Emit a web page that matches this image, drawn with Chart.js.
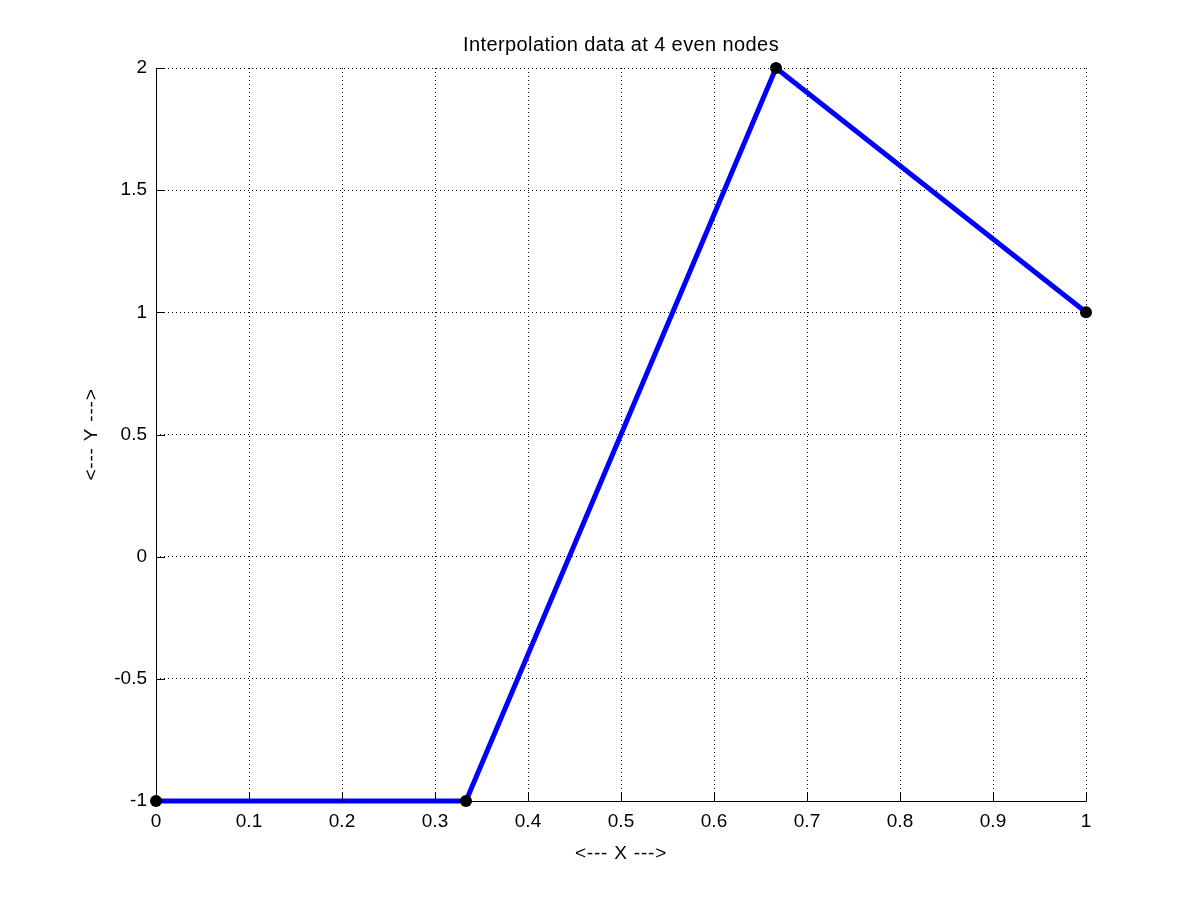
<!DOCTYPE html>
<html>
<head>
<meta charset="utf-8">
<script src="https://cdn.jsdelivr.net/npm/chart.js@4/dist/chart.umd.min.js"></script>
<style>
html,body{margin:0;padding:0;background:#fff;}
#wrap{width:1200px;height:901px;}
</style>
</head>
<body>
<div id="wrap"><canvas id="c" width="1200" height="901"></canvas></div>
<script>
const nodesX = [0, 1/3, 2/3, 1];
const nodesY = [-1, -1, 2, 1];
const titleText = 'Interpolation data at 4 even nodes';
const xLabel = '<--- X --->';
const yLabel = '<--- Y --->';

const FONT = '"Liberation Sans", Arial, Helvetica, sans-serif';
const FS = 19;

const innerTicks = {
  id: 'innerTicks',
  afterDraw(chart) {
    const ctx = chart.ctx;
    const a = chart.chartArea;
    const xs = chart.scales.x, ys = chart.scales.y;
    const L = 9;
    ctx.save();
    ctx.strokeStyle = '#000';
    ctx.lineWidth = 1;
    ctx.beginPath();
    xs.ticks.forEach(t => {
      const px = Math.round(xs.getPixelForValue(t.value)) + 0.5;
      ctx.moveTo(px, a.bottom + 0.5);
      ctx.lineTo(px, a.bottom - L);
    });
    ys.ticks.forEach(t => {
      const py = Math.round(ys.getPixelForValue(t.value)) + 0.5;
      ctx.moveTo(a.left + 0.5, py);
      ctx.lineTo(a.left + L, py);
    });
    ctx.moveTo(a.left + 0.5, a.top);
    ctx.lineTo(a.left + 0.5, a.bottom + 0.5);
    ctx.lineTo(a.right + 0.5, a.bottom + 0.5);
    ctx.stroke();
    ctx.fillStyle = '#000';
    ctx.textAlign = 'center';
    ctx.textBaseline = 'middle';
    ctx.font = '20px ' + FONT;
    ctx.letterSpacing = '0.4px';
    ctx.fillText(titleText, (a.left + a.right) / 2, 45);
    ctx.font = FS + 'px ' + FONT;
    ctx.letterSpacing = '0.8px';
    ctx.fillText(xLabel, (a.left + a.right) / 2, 854);
    ctx.translate(92, (a.top + a.bottom) / 2);
    ctx.rotate(-Math.PI / 2);
    ctx.fillText(yLabel, 0, 0);
    ctx.restore();
  }
};

new Chart(document.getElementById('c'), {
  type: 'scatter',
  data: {
    datasets: [{
      data: nodesX.map((x, i) => ({x: x, y: nodesY[i]})),
      showLine: true,
      borderColor: '#0000ff',
      borderWidth: 5,
      pointRadius: 6,
      pointHoverRadius: 6,
      pointBackgroundColor: '#000',
      pointBorderColor: '#000',
      pointBorderWidth: 0,
      clip: false,
      tension: 0
    }]
  },
  options: {
    responsive: false,
    animation: false,
    events: [],
    layout: {padding: {left: 0, right: 114, top: 68, bottom: 0}},
    plugins: {legend: {display: false}, tooltip: {enabled: false}, title: {display: false}},
    scales: {
      x: {
        type: 'linear',
        min: 0, max: 1,
        afterFit(s) { s.height = 100; },
        ticks: {
          stepSize: 0.1,
          color: '#000',
          padding: 9,
          font: {family: FONT, size: FS},
          maxRotation: 0,
          autoSkip: false,
          callback: v => String(Number(v.toFixed(1)))
        },
        grid: {color: '#000', lineWidth: 1, drawTicks: false},
        border: {display: false, dash: [1, 3]}
      },
      y: {
        type: 'linear',
        min: -1, max: 2,
        afterFit(s) { s.width = 156; },
        ticks: {
          stepSize: 0.5,
          color: '#000',
          padding: 9,
          font: {family: FONT, size: FS},
          autoSkip: false,
          callback: v => String(Number(v.toFixed(1)))
        },
        grid: {color: '#000', lineWidth: 1, drawTicks: false},
        border: {display: false, dash: [1, 3]}
      }
    }
  },
  plugins: [innerTicks]
});
</script>
</body>
</html>
